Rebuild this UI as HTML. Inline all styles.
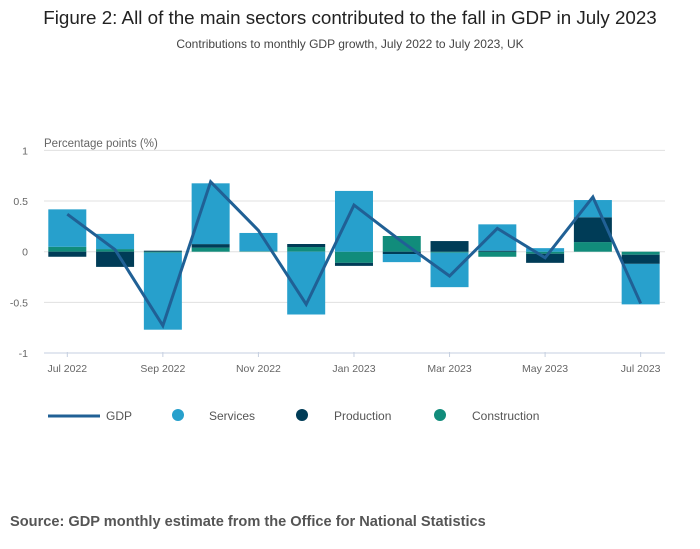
<!DOCTYPE html>
<html><head><meta charset="utf-8"><style>
body{margin:0;background:#fff;font-family:"Liberation Sans",sans-serif;}
#wrap{position:relative;width:700px;height:549px;overflow:hidden}
</style></head><body>
<div id="wrap">
<svg id="chart" width="700" height="549">
<text x="350" y="24" text-anchor="middle" font-size="18.8" fill="#222">Figure 2: All of the main sectors contributed to the fall in GDP in July 2023</text>
<text x="350" y="48" text-anchor="middle" font-size="12" fill="#444">Contributions to monthly GDP growth, July 2022 to July 2023, UK</text>
<text x="44" y="147" font-size="11.5" fill="#666">Percentage points (%)</text>
<g id="grid"></g><g id="bars"></g><g id="line"></g><g id="xaxis"></g>
<g>
<line x1="48" y1="416" x2="100" y2="416" stroke="#206095" stroke-width="3"/>
<text x="106" y="420" font-size="12" fill="#555">GDP</text>
<circle cx="178" cy="415" r="6" fill="#27a0cc"/>
<text x="209" y="420" font-size="12" fill="#555">Services</text>
<circle cx="302" cy="415" r="6" fill="#003c57"/>
<text x="334" y="420" font-size="12" fill="#555">Production</text>
<circle cx="440" cy="415" r="6" fill="#118c7b"/>
<text x="472" y="420" font-size="12" fill="#555">Construction</text>
</g>
<text x="10" y="526" font-size="14.6" font-weight="bold" fill="#555">Source: GDP monthly estimate from the Office for National Statistics</text>
</svg>
</div>
<script>
const months=["Jul 2022","Aug 2022","Sep 2022","Oct 2022","Nov 2022","Dec 2022","Jan 2023","Feb 2023","Mar 2023","Apr 2023","May 2023","Jun 2023","Jul 2023"];
const services=[0.37,0.15,-0.76,0.6,0.18,-0.62,0.6,-0.08,-0.34,0.26,0.035,0.17,-0.4];
const production=[-0.05,-0.15,0.01,0.035,0,0.03,-0.03,-0.023,0.105,0.01,-0.09,0.245,-0.09];
const construction=[0.048,0.026,-0.01,0.04,0.005,0.046,-0.11,0.155,-0.01,-0.05,-0.02,0.095,-0.03];
const gdp=[0.37,0.02,-0.73,0.69,0.21,-0.52,0.46,0.1,-0.24,0.23,-0.06,0.54,-0.51];
const yTicks=[1,0.5,0,-0.5,-1];
const yTickLabels=["1","0.5","0","-0.5","-1"];
const xTickIdx=[0,2,4,6,8,10,12];
const NS="http://www.w3.org/2000/svg";
const y=v=>251.7-v*101.3;
const x=i=>67.3+i*47.78;
const bw=38;
function mk(t,a,p){const e=document.createElementNS(NS,t);for(const k in a)e.setAttribute(k,a[k]);p.appendChild(e);return e;}
const grid=document.getElementById('grid');
yTicks.forEach((v,i)=>{
 const l=mk('line',{x1:44,x2:665,y1:y(v),y2:y(v),stroke:v===-1?'#c5cfe0':'#e0e0e0','stroke-width':1},grid);
 
 
 const t=mk('text',{x:28,y:y(v)+4,'text-anchor':'end','font-size':10.5,fill:'#666'},grid);
 t.textContent=yTickLabels[i];
 
 
});
const bars=document.getElementById('bars');
const series=[["construction",construction,"#118c7b"],["production",production,"#003c57"],["services",services,"#27a0cc"]];
months.forEach((m,i)=>{
 let pos=0,neg=0;
 series.forEach(([n,arr,c])=>{
  const v=arr[i];if(!v)return;
  let a,b;
  if(v>0){a=pos;b=pos+v;pos=b;}else{a=neg;b=neg+v;neg=b;}
  const r=mk('rect',{x:x(i)-bw/2,y:Math.min(y(a),y(b)),width:bw,height:Math.abs(y(a)-y(b)),fill:c},bars);
  
  
 });
});
const lg=document.getElementById('line');
const p=mk('polyline',{points:gdp.map((v,i)=>x(i)+','+y(v)).join(' '),fill:'none',stroke:'#206095','stroke-width':3,'stroke-linejoin':'miter'},lg);


const xa=document.getElementById('xaxis');
xTickIdx.forEach(i=>{
 const l=mk('line',{x1:x(i),x2:x(i),y1:352,y2:357,stroke:'#c5cfe0'},xa);
 
 
 const t=mk('text',{x:x(i),y:372,'text-anchor':'middle','font-size':10.5,fill:'#666'},xa);
 t.textContent=months[i];
 
 
});
</script>
</body></html>
